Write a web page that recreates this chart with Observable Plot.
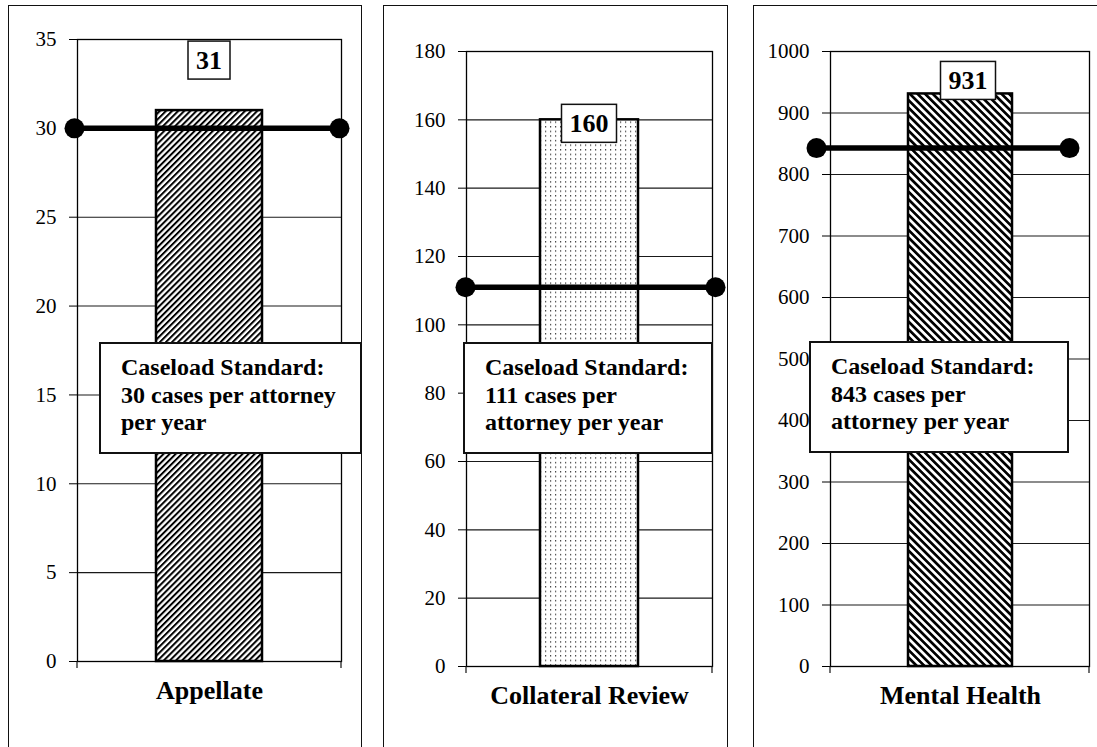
<!DOCTYPE html>
<html>
<head>
<meta charset="utf-8">
<script src="https://cdn.jsdelivr.net/npm/d3@7"></script>
<script src="https://cdn.jsdelivr.net/npm/@observablehq/plot@0.6"></script>
<style>
  html, body { margin: 0; padding: 0; background: #fff; overflow: hidden; }
  #page { position: relative; width: 1097px; height: 747px; overflow: hidden;
          font-family: "Liberation Serif", "Times New Roman", serif; color: #000; }
  .panel { position: absolute; top: 5px; height: 800px; border: 1.5px solid #111; box-sizing: border-box; }
  .chart { position: absolute; top: 0; }
  .note { position: absolute; background: #fff; border: 2px solid #111; box-sizing: border-box;
          font-weight: bold; font-size: 24px; line-height: 27.5px; padding: 10px 0 0 20px;
          white-space: nowrap; height: 112px; }
</style>
</head>
<body>
<div id="page"></div>
<script>
// Caseload per attorney by division, with the caseload standard for each
const categories = ["Appellate", "Collateral Review", "Mental Health"];
const caseloads  = [31, 160, 931];
const standards  = [30, 111, 843];
const axisMax    = [35, 180, 1000];
const tickSteps  = [5, 20, 100];
const patterns   = ["hatch-fwd", "dots", "hatch-back"];
// how the standard's sentence breaks across the note's lines
const noteLines = [
  n => ["Caseload Standard:", `${n} cases per attorney`, "per year"],
  n => ["Caseload Standard:", `${n} cases per`, "attorney per year"],
  n => ["Caseload Standard:", `${n} cases per`, "attorney per year"]
];

// page layout of each panel
const layout = [
  {left: 8,   width: 354, boxWidth: 354, margin: {top: 39, right: 21, bottom: 86, left: 69},
   labelDx: 0, labelDy: -50, dotLeft: -3, dotRight: -2, note: {left: 99, top: 342, width: 263}},
  {left: 383, width: 345, boxWidth: 345, margin: {top: 51, right: 16, bottom: 81, left: 83},
   labelDx: 0, labelDy: 4, dotLeft: -1, dotRight: 3, note: {left: 463, top: 342, width: 250}},
  {left: 753, width: 344, boxWidth: 360, margin: {top: 51, right: 8, bottom: 81, left: 77},
   labelDx: 8, labelDy: -13, dotLeft: -14, dotRight: -20, note: {left: 809, top: 341, width: 260}}
];

const page = document.getElementById("page");

// fill patterns for the bars
function patternDefs(kind) {
  return () => {
    const defs = d3.create("svg:defs");
    if (kind === "dots") {
      const p = defs.append("pattern").attr("id", kind).attr("patternUnits", "userSpaceOnUse")
        .attr("width", 5).attr("height", 4.6);
      p.append("rect").attr("width", 5).attr("height", 4.6).attr("fill", "#fff");
      p.append("rect").attr("x", 2).attr("y", 2).attr("width", 1.2).attr("height", 1.2).attr("fill", "#222");
    } else {
      const fwd = kind === "hatch-fwd";
      const period = fwd ? 4.3 : 5.4, thick = fwd ? 2.0 : 2.7;
      const p = defs.append("pattern").attr("id", kind).attr("patternUnits", "userSpaceOnUse")
        .attr("width", period).attr("height", period)
        .attr("patternTransform", `rotate(${fwd ? 45 : -45})`);
      p.append("rect").attr("width", period).attr("height", period).attr("fill", "#fff");
      p.append("rect").attr("width", thick).attr("height", period).attr("fill", "#000");
    }
    return defs.node();
  };
}

// boxed value label above the bar
function valueBox(category, value, dx, dy) {
  return (index, scales) => {
    const bw = scales.x.bandwidth ? scales.x.bandwidth() : 0;
    const cx = scales.x(category) + bw / 2 + dx;
    const cy = scales.y(value) + dy;
    const txt = String(value);
    const w = txt.length * 13 + 16, h = 38;
    const g = d3.create("svg:g");
    g.append("rect").attr("x", cx - w / 2).attr("y", cy - h / 2).attr("width", w).attr("height", h)
      .attr("fill", "#fff").attr("stroke", "#111").attr("stroke-width", 1.5);
    g.append("text").attr("x", cx).attr("y", cy).attr("dy", "0.34em").attr("text-anchor", "middle")
      .attr("font-weight", "bold").attr("font-size", 26).attr("fill", "#000").text(txt);
    return g.node();
  };
}

// short category-boundary ticks below the baseline
function edgeTicks() {
  return (index, scales, values, dim) => {
    const g = d3.create("svg:g").attr("stroke", "#111").attr("stroke-width", 1.2);
    const y0 = dim.height - dim.marginBottom;
    for (const x of [dim.marginLeft, dim.width - dim.marginRight]) {
      g.append("line").attr("x1", x).attr("x2", x).attr("y1", y0).attr("y2", y0 + 7);
    }
    return g.node();
  };
}

categories.forEach((cat, i) => {
  const L = layout[i];
  const ticks = d3.range(0, axisMax[i] + tickSteps[i] / 2, tickSteps[i]);
  const data = [{category: cat, value: caseloads[i]}];

  const box = document.createElement("div");
  box.className = "panel";
  box.style.left = L.left + "px";
  box.style.width = L.boxWidth + "px";
  page.appendChild(box);

  const chart = Plot.plot({
    width: L.width,
    height: 747,
    marginTop: L.margin.top,
    marginRight: L.margin.right,
    marginBottom: L.margin.bottom,
    marginLeft: L.margin.left,
    style: {background: "transparent", fontFamily: "'Liberation Serif', 'Times New Roman', serif",
            fontSize: "21px", color: "#000"},
    x: {type: "band", domain: [cat], paddingInner: 0, paddingOuter: 0.745, axis: null},
    y: {domain: [0, axisMax[i]], axis: null},
    marks: [
      patternDefs(patterns[i]),
      Plot.gridY(ticks, {stroke: "#000", strokeOpacity: 0.9, strokeWidth: 1.1}),
      Plot.frame({stroke: "#000", strokeWidth: 1.3}),
      Plot.axisY(ticks, {tickSize: 8, tickPadding: 13, label: null, stroke: "#000",
                         tickFormat: d => String(d)}),
      edgeTicks(),
      Plot.barY(data, {x: "category", y: "value", fill: `url(#${patterns[i]})`,
                       stroke: "#000", strokeWidth: 2.5}),
      valueBox(cat, caseloads[i], L.labelDx, L.labelDy),
      Plot.ruleY([standards[i]], {stroke: "#000", strokeWidth: 5.5,
                                  insetLeft: L.dotLeft, insetRight: -L.dotRight}),
      Plot.dot([standards[i]], {y: d => d, frameAnchor: "left", dx: L.dotLeft, r: 10, fill: "#000", stroke: null}),
      Plot.dot([standards[i]], {y: d => d, frameAnchor: "right", dx: L.dotRight, r: 10, fill: "#000", stroke: null}),
      Plot.text([cat], {x: d => d, frameAnchor: "bottom", dy: 37, fontWeight: "bold", fontSize: 26, fill: "#000"})
    ]
  });
  chart.classList.add("chart");
  chart.style.left = L.left + "px";
  page.appendChild(chart);

  const note = document.createElement("div");
  note.className = "note";
  note.style.left = L.note.left + "px";
  note.style.top = L.note.top + "px";
  note.style.width = L.note.width + "px";
  note.innerHTML = noteLines[i](standards[i]).map(s => `<div>${s}</div>`).join("");
  page.appendChild(note);
});
</script>
</body>
</html>
